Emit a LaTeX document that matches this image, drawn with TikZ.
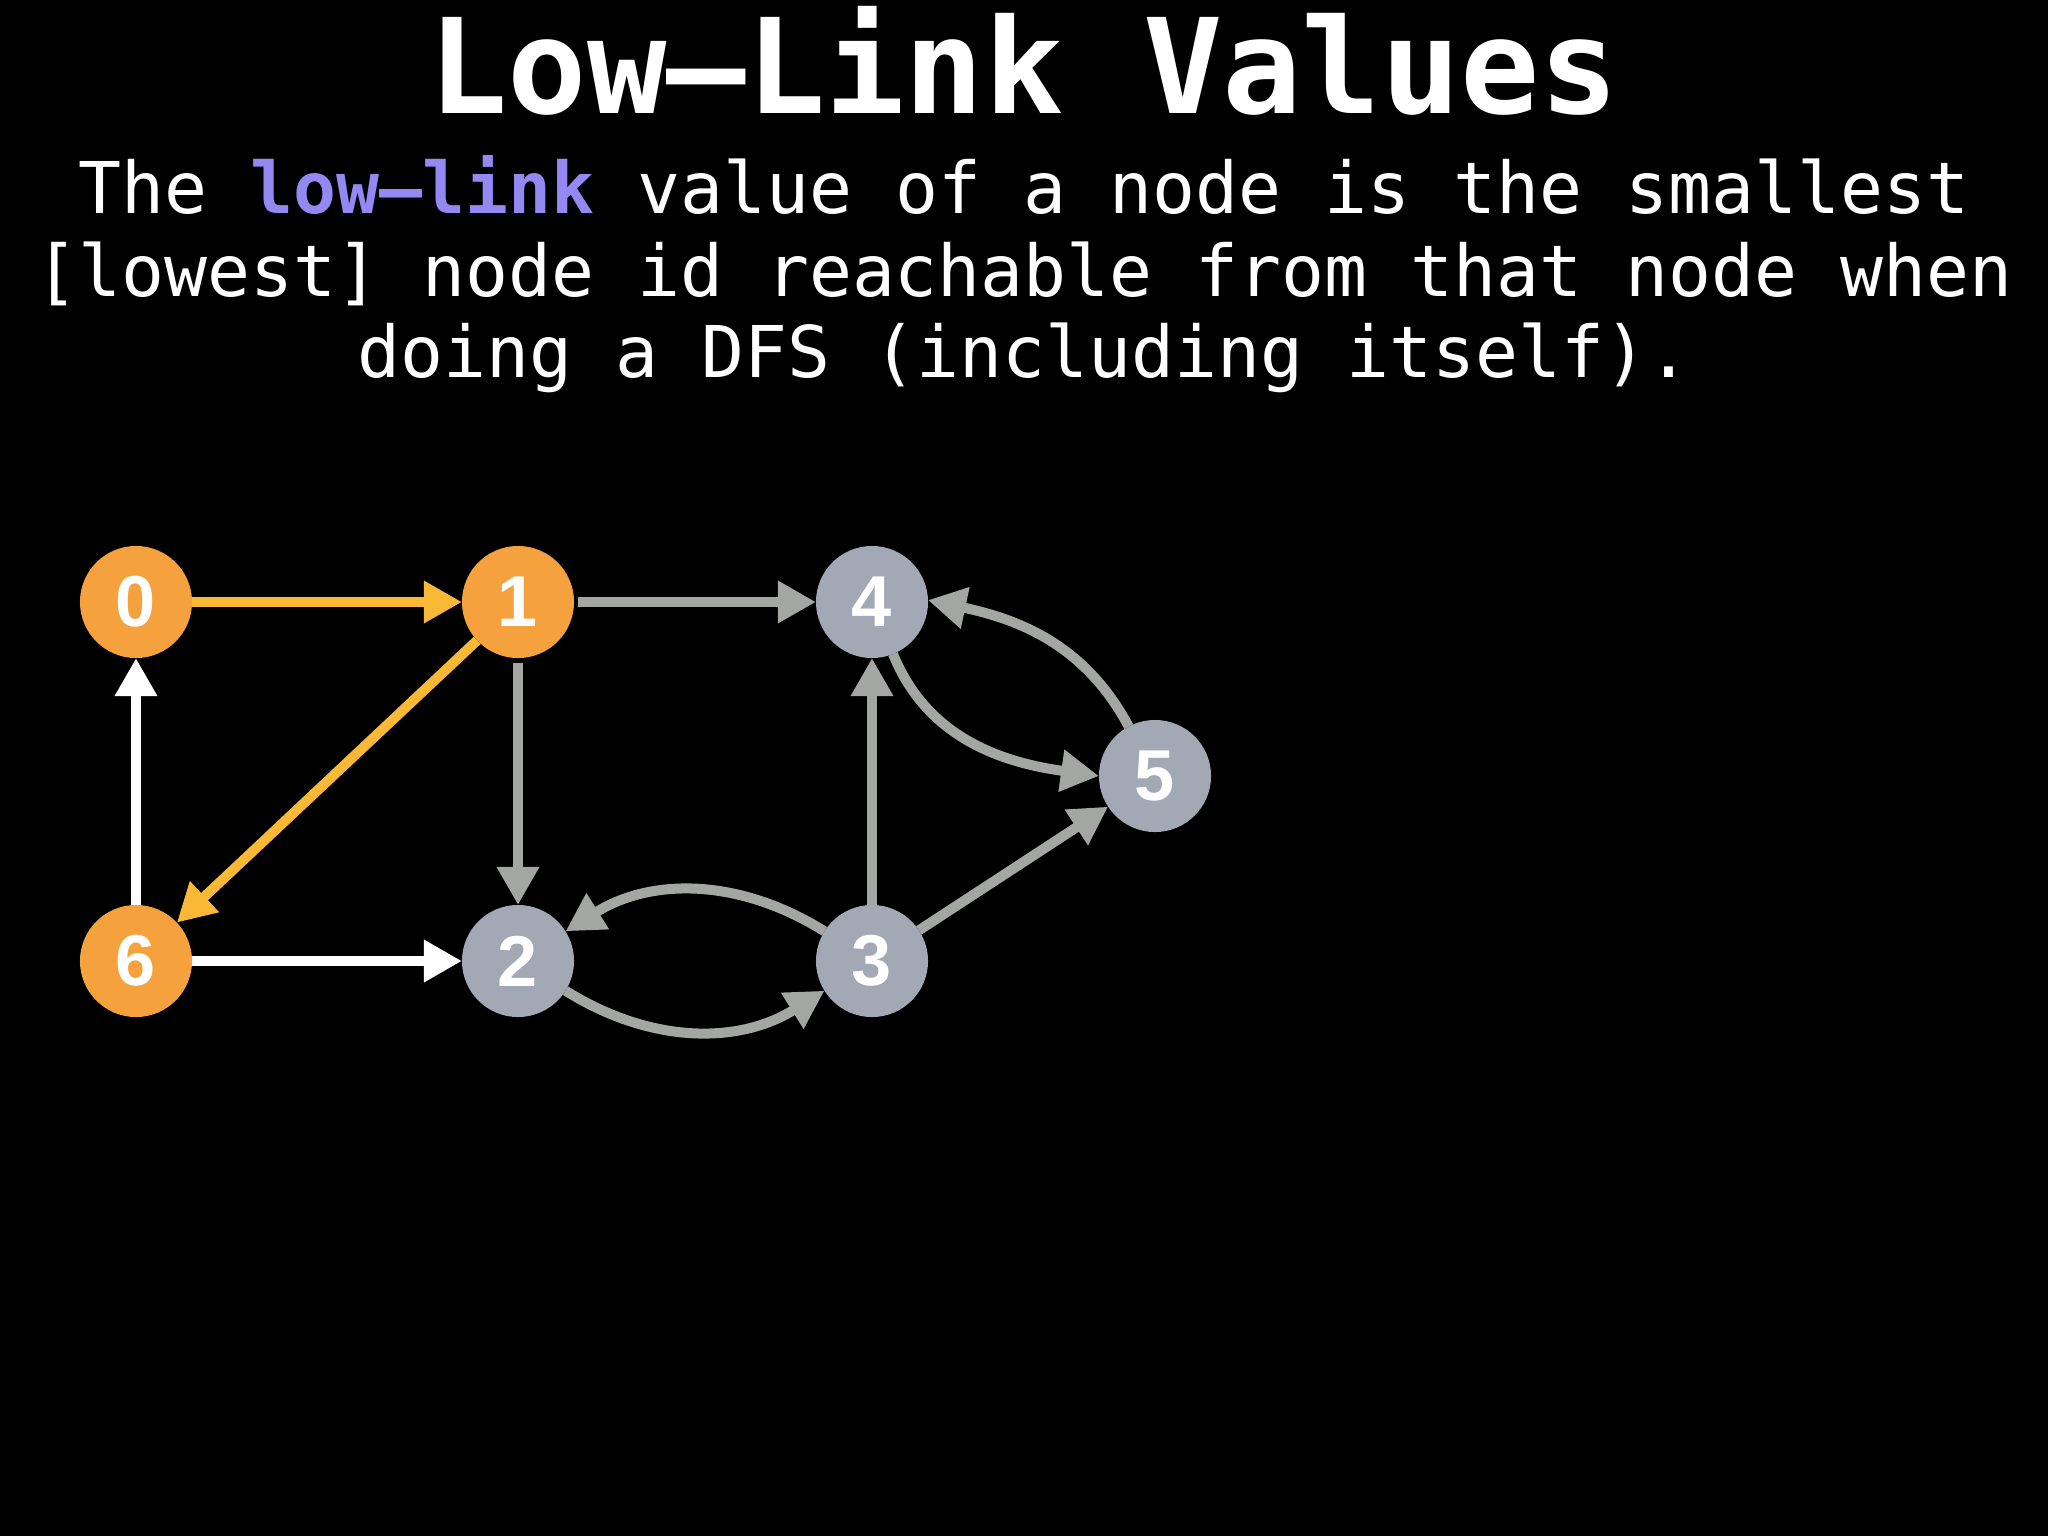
\documentclass[tikz,border=0pt]{standalone}
\usepackage{fontspec}
\setmainfont{DejaVu Sans Mono}
\newfontfamily\labfont{Liberation Sans}
\usetikzlibrary{arrows.meta}
\definecolor{orangenode}{HTML}{F5A23E}
\definecolor{graynode}{HTML}{A2A8B4}
\definecolor{grayedge}{HTML}{A4A6A4}
\definecolor{orangeedge}{HTML}{F9B836}
\definecolor{lowlink}{HTML}{9688F2}
\begin{document}
\begin{tikzpicture}[x=0.01cm,y=0.01cm,
  vtx/.style={circle, minimum size=1.12cm, inner sep=0pt, outer sep=0pt, text=white,
    font=\labfont\bfseries\fontsize{20.5}{20.5}\selectfont},
  onode/.style={vtx, fill=orangenode},
  gnode/.style={vtx, fill=graynode},
  edge/.style={line width=0.1cm, -{Triangle[length=0.38cm,width=0.40cm]}},
  gedge/.style={edge, draw=grayedge},
  oedge/.style={edge, draw=orangeedge},
  wedge/.style={edge, draw=white},
  body/.style={text=white, anchor=base, inner sep=0pt, font=\fontsize{20.3}{24}\selectfont},
]
\fill[black] (0,0) rectangle (2048,-1536);
\useasboundingbox (0,0) rectangle (2048,-1536);

\node[text=white, anchor=base, inner sep=0pt, font=\bfseries\fontsize{37.5}{40}\selectfont] (title) at (1024,-113) {Low–Link Values};
\node[body] (l1) at (1024,-213) {The \textcolor{lowlink}{\bfseries low–link} value of a node is the smallest};
\node[body] (l2) at (1024,-296) {[lowest] node id reachable from that node when};
\node[body] (l3) at (1024,-377) {doing a DFS (including itself).};

\node[onode] (n0) at (136,-602) {0};
\node[onode] (n1) at (518,-602) {1};
\node[gnode] (n4) at (872,-602) {4};
\node[gnode] (n5) at (1155,-776) {5};
\node[onode] (n6) at (136,-961) {6};
\node[gnode] (n2) at (518,-961) {2};
\node[gnode] (n3) at (872,-961) {3};

\draw[oedge] (n0) -- (n1);
\draw[gedge, shorten <=0.04cm] (n1) -- (n4);
\draw[gedge, shorten <=0.05cm] (n1) -- (n2);
\draw[oedge] (n1) -- (n6);
\draw[wedge] (n6) -- (n0);
\draw[wedge] (n6) -- (n2);
\draw[gedge] (n2) to[bend right=32] (n3);
\draw[gedge] (n3) to[bend right=32] (n2);
\draw[gedge] (n3) -- (n4);
\draw[gedge] (n3) -- (n5);
\draw[gedge] (n4.-68) to[out=-68,in=172] (n5.west);
\draw[gedge] (n5.118) to[out=118,in=-12] (n4.2);
\end{tikzpicture}
\end{document}
